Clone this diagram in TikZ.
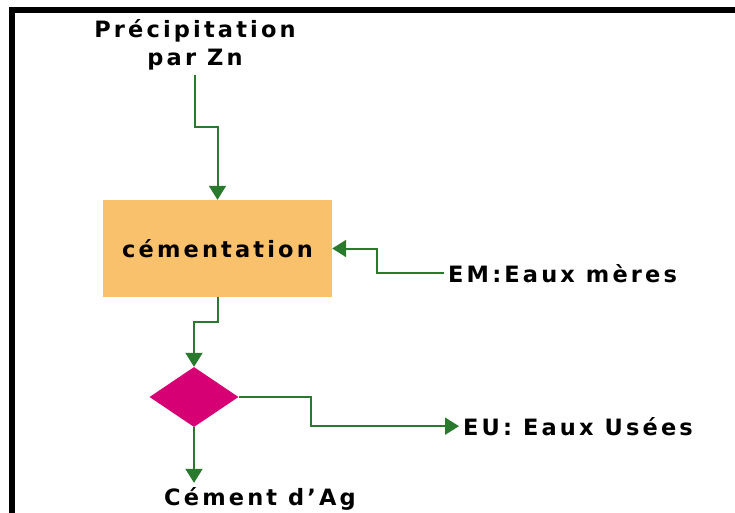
\documentclass[tikz,border=0pt]{standalone}
\usepackage{fontspec}
\setmainfont{DejaVu Sans}[LetterSpace=14]
\usetikzlibrary{arrows.meta,shapes.geometric}
\definecolor{flowgreen}{RGB}{42,122,46}
\definecolor{boxorange}{RGB}{249,193,108}
\definecolor{decmagenta}{RGB}{214,0,116}
\tikzset{
  lbl/.style={font=\fontsize{22.5}{28}\selectfont\bfseries, text=black, inner sep=4pt},
  flow/.style={draw=flowgreen, line width=2pt,
    -{Triangle[length=14pt,width=17pt]}},
  procbox/.style={fill=boxorange, minimum width=229pt, minimum height=97pt,
    inner sep=0pt, font=\fontsize{22.5}{28}\selectfont\bfseries},
  decision/.style={diamond, fill=decmagenta, minimum width=89pt,
    minimum height=60pt, inner sep=0pt}
}
\begin{document}
\begin{tikzpicture}[x=1pt,y=-1pt]
\useasboundingbox (0,0) rectangle (735,513);
% frame
\draw[line width=6pt, line join=miter] (735,10) -- (12,10) -- (12,513);
% nodes
\node[lbl, align=center] (prec) at (195,45) {Précipitation\\par Zn};
\node[procbox] (cem) at (217.5,248.5) {cémentation};
\node[lbl, anchor=base west] (em) at (444,282) {EM:Eaux mères};
\node[decision] (dec) at (194,397) {};
\node[lbl, anchor=base west] (eu) at (459,435) {EU: Eaux Usées};
\node[lbl, anchor=base] (ag) at (260,505) {Cément d’Ag};
% connectors
\draw[flow] (prec.south) -- (prec.south |- 0,127) -| (cem.north);
\draw[flow] (em.west) -- ++(-67,0) |- (cem.east);
\draw[flow] (cem.south) -- ++(0,25) -| (dec.north);
\draw[flow] (dec.east) -- ++(72,0) |- (eu.west);
\draw[flow] (dec.south) -- (dec.south |- ag.north);
\end{tikzpicture}
\end{document}
